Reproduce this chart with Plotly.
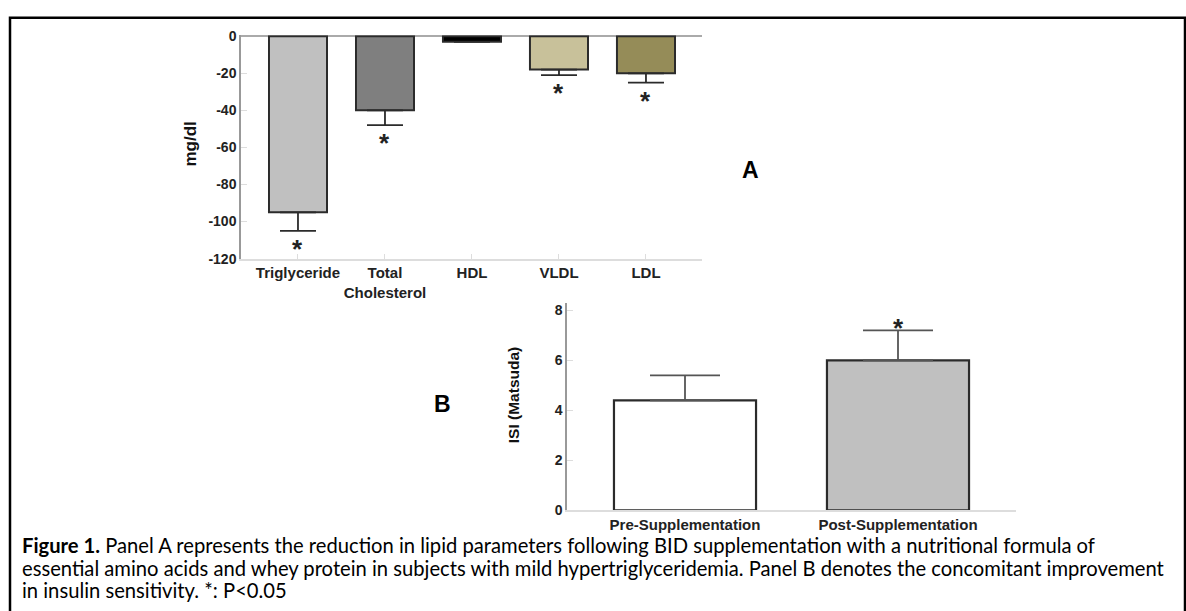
import plotly.graph_objects as go

# ---------------- data ----------------
lipid_categories = ["Triglyceride", "Total<br>Cholesterol", "HDL", "VLDL", "LDL"]
lipid_change = [-95, -40, -3, -18, -20]
lipid_sem = [10, 8, 0, 3, 5]
lipid_significant = [True, True, False, True, True]
lipid_colors = ["#c0c0c0", "#7f7f7f", "#000000", "#c8c19a", "#958c58"]
lipid_tickvals = [0, -20, -40, -60, -80, -100, -120]
lipid_ticktext = ["0", "-20", "-40", "-60", "-80", "-100", "-120"]

isi_categories = ["Pre-Supplementation", "Post-Supplementation"]
isi_values = [4.4, 6.0]
isi_sem = [1.0, 1.2]
isi_significant = [False, True]
isi_colors = ["#ffffff", "#c0c0c0"]
isi_tickvals = [0, 2, 4, 6, 8]

caption_lines = [
    "<b>Figure 1.</b> Panel A represents the reduction in lipid parameters following BID supplementation with a nutritional formula of",
    "essential amino acids and whey protein in subjects with mild hypertriglyceridemia. Panel B denotes the concomitant improvement",
    "in insulin sensitivity. *: P&lt;0.05",
]

W, H = 1186, 611
AX_FONT = "Liberation Sans, Arial, sans-serif"
CAP_FONT = "Lato, Carlito, Calibri, sans-serif"


def px_x(p):
    return p / W


def px_y(p):
    return 1 - p / H


fig = go.Figure()

# Panel A bars
fig.add_trace(go.Bar(
    x=lipid_categories, y=lipid_change,
    marker=dict(color=lipid_colors, line=dict(color="#2b2b2b", width=2)),
    width=0.667,
    error_y=dict(type="data", symmetric=False, array=[0] * len(lipid_sem),
                 arrayminus=lipid_sem, color="#2b2b2b", thickness=1.8, width=18),
    xaxis="x", yaxis="y", showlegend=False,
))

# Panel B bars
fig.add_trace(go.Bar(
    x=isi_categories, y=isi_values,
    marker=dict(color=isi_colors, line=dict(color="#2b2b2b", width=2.2)),
    width=0.667,
    error_y=dict(type="data", symmetric=False, array=isi_sem,
                 arrayminus=[0] * len(isi_sem), color="#555555", thickness=1.8, width=35),
    xaxis="x2", yaxis="y2", showlegend=False,
))

annotations = []
# significance stars
for c, v, e, s in zip(lipid_categories, lipid_change, lipid_sem, lipid_significant):
    if s:
        annotations.append(dict(x=c, y=v - e, xref="x", yref="y", text="<b>*</b>",
                                showarrow=False, yanchor="top", xanchor="center", yshift=-1,
                                font=dict(family=AX_FONT, size=26, color="#222")))
for c, v, e, s in zip(isi_categories, isi_values, isi_sem, isi_significant):
    if s:
        annotations.append(dict(x=c, y=v + e, xref="x2", yref="y2", text="<b>*</b>",
                                showarrow=False, yanchor="bottom", xanchor="center", yshift=-15,
                                font=dict(family=AX_FONT, size=26, color="#222")))

# axis titles
annotations.append(dict(x=px_x(191), y=px_y(141), xref="paper", yref="paper",
                        xanchor="center", yanchor="middle",
                        text="<b>mg/dl</b>", textangle=-90, showarrow=False,
                        font=dict(family=AX_FONT, size=17, color="#111")))
annotations.append(dict(x=px_x(513), y=px_y(398), xref="paper", yref="paper",
                        xanchor="center", yanchor="middle",
                        text="<b>ISI (Matsuda)</b>", textangle=-90, showarrow=False,
                        font=dict(family=AX_FONT, size=15.5, color="#111")))
# panel letters
annotations.append(dict(x=px_x(750), y=px_y(167), xref="paper", yref="paper",
                        xanchor="center", yanchor="middle",
                        text="<b>A</b>", showarrow=False,
                        font=dict(family=AX_FONT, size=23, color="#000")))
annotations.append(dict(x=px_x(442), y=px_y(407), xref="paper", yref="paper",
                        xanchor="center", yanchor="middle",
                        text="<b>B</b>", showarrow=False,
                        font=dict(family=AX_FONT, size=23, color="#000")))
# caption
for i, line in enumerate(caption_lines):
    annotations.append(dict(x=px_x(20), y=px_y(552 + 23 * i), xref="paper", yref="paper",
                            text=line, showarrow=False, xanchor="left", yanchor="middle",
                            font=dict(family=CAP_FONT, size=20.2, color="#000")))

ytickfont = dict(family=AX_FONT, size=14, color="#222", weight="bold")
xtickfont = dict(family=AX_FONT, size=15, color="#222", weight="bold")

fig.update_layout(
    width=W, height=H,
    margin=dict(l=0, r=0, t=0, b=0),
    paper_bgcolor="white", plot_bgcolor="white",
    barmode="overlay",
    xaxis=dict(domain=[px_x(241), px_x(702)], anchor="y", range=[-0.655, 4.644],
               showline=True, linecolor="#dddddd", linewidth=1.5,
               ticks="inside", ticklen=5, tickcolor="#dddddd",
               showgrid=False, zeroline=False, tickfont=xtickfont),
    yaxis=dict(domain=[px_y(258), px_y(29)], anchor="x", range=[-120, 0.5],
               tickvals=lipid_tickvals, ticktext=lipid_ticktext,
               showline=True, linecolor="#999999", linewidth=1.5,
               ticks="inside", ticklen=6, tickcolor="#dddddd",
               showgrid=False, zeroline=True, zerolinecolor="#aaaaaa", zerolinewidth=1.5,
               tickfont=ytickfont),
    xaxis2=dict(domain=[px_x(567), px_x(1016)], anchor="y2", range=[-0.554, 1.554],
                showline=True, linecolor="#dddddd", linewidth=1.5,
                ticks="", showgrid=False, zeroline=False, tickfont=xtickfont),
    yaxis2=dict(domain=[px_y(516), px_y(303)], anchor="x2", range=[0, 8.31],
                tickvals=isi_tickvals, showline=True, linecolor="#999999", linewidth=1.5,
                ticks="inside", ticklen=6, tickcolor="#dddddd",
                showgrid=False, zeroline=False, tickfont=ytickfont),
    annotations=annotations,
    shapes=[dict(type="rect", xref="paper", yref="paper",
                 x0=px_x(10), x1=px_x(1185), y0=-0.05, y1=px_y(11),
                 line=dict(color="#000", width=2.5), fillcolor="rgba(0,0,0,0)", layer="above")],
)

fig.write_html("out.html", config={"displayModeBar": False},
               post_script="document.body.style.margin='0';document.body.style.overflow='hidden';")
